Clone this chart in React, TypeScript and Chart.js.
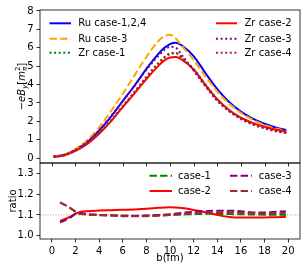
import React, { useEffect, useRef } from 'react';
import { Chart, registerables } from 'chart.js';
Chart.register(...registerables);

// ---------- data ----------
const B_FIELD = [0.15, 1, 2, 3, 4, 5, 6, 7, 8, 9, 9.5, 10, 10.5, 11, 12, 13, 14, 15, 16, 17, 18, 19, 19.85];
const RU_CASE_124 = [0.09, 0.17, 0.45, 0.88, 1.5, 2.25, 3.1, 3.95, 4.85, 5.65, 5.98, 6.2, 6.27, 6.12, 5.55, 4.62, 3.75, 3.05, 2.53, 2.15, 1.87, 1.66, 1.54];
const RU_CASE_3 = [0.09, 0.18, 0.5, 0.98, 1.68, 2.55, 3.5, 4.5, 5.5, 6.35, 6.62, 6.7, 6.5, 6.1, 5.35, 4.45, 3.62, 2.97, 2.46, 2.09, 1.81, 1.6, 1.5];
const ZR_CASE_1 = [0.08, 0.16, 0.41, 0.8, 1.36, 2.04, 2.82, 3.6, 4.42, 5.15, 5.45, 5.65, 5.7, 5.48, 4.85, 4.0, 3.2, 2.6, 2.18, 1.88, 1.66, 1.5, 1.4];
const ZR_CASE_2 = [0.08, 0.15, 0.4, 0.78, 1.33, 2.0, 2.78, 3.52, 4.3, 5.0, 5.3, 5.47, 5.5, 5.35, 4.82, 3.98, 3.2, 2.62, 2.2, 1.92, 1.71, 1.55, 1.44];
const ZR_CASE_3 = [0.08, 0.17, 0.46, 0.9, 1.52, 2.28, 3.1, 3.92, 4.8, 5.55, 5.87, 6.05, 6.0, 5.6, 4.75, 3.9, 3.12, 2.55, 2.13, 1.83, 1.62, 1.46, 1.37];
const ZR_CASE_4 = [0.08, 0.15, 0.41, 0.8, 1.36, 2.04, 2.82, 3.6, 4.42, 5.15, 5.47, 5.7, 5.72, 5.45, 4.8, 3.95, 3.17, 2.58, 2.16, 1.86, 1.65, 1.48, 1.39];

const B_RATIO = [0.7, 1.5, 2.25, 3, 4, 5, 6, 7, 8, 9, 10, 11, 12, 13, 14, 15, 16, 17, 18, 19, 19.8];
const RATIO_CASE_1 = [1.16, 1.135, 1.108, 1.103, 1.1, 1.098, 1.096, 1.095, 1.096, 1.098, 1.1, 1.102, 1.104, 1.105, 1.105, 1.104, 1.103, 1.102, 1.101, 1.101, 1.1];
const RATIO_CASE_2 = [1.071, 1.09, 1.112, 1.118, 1.121, 1.123, 1.125, 1.126, 1.13, 1.134, 1.137, 1.133, 1.124, 1.113, 1.1, 1.09, 1.087, 1.087, 1.088, 1.089, 1.09];
const RATIO_CASE_3 = [1.064, 1.085, 1.11, 1.104, 1.1, 1.098, 1.096, 1.096, 1.097, 1.099, 1.103, 1.11, 1.115, 1.118, 1.12, 1.12, 1.118, 1.112, 1.112, 1.115, 1.118];
const RATIO_CASE_4 = [1.16, 1.135, 1.108, 1.102, 1.099, 1.097, 1.094, 1.093, 1.094, 1.096, 1.1, 1.104, 1.108, 1.11, 1.112, 1.113, 1.11, 1.108, 1.107, 1.108, 1.11];

const X_TICKS = [0, 2, 4, 6, 8, 10, 12, 14, 16, 18, 20];
const TOP_Y_TICKS = [0, 1, 2, 3, 4, 5, 6, 7, 8];
const RATIO_Y_TICKS = [1.0, 1.1, 1.2, 1.3];
const RATIO_REFERENCE = 1.1;
const X_MIN = -1, X_MAX = 21;
const TOP_Y_MIN = -0.26, TOP_Y_MAX = 8.05;
const RATIO_Y_MIN = 0.984, RATIO_Y_MAX = 1.35;

const TOP_LABELS = ['Ru case-1,2,4', 'Ru case-3', 'Zr case-1', 'Zr case-2', 'Zr case-3', 'Zr case-4'];
const RATIO_LABELS = ['case-1', 'case-2', 'case-3', 'case-4'];
const X_TITLE = 'b(fm)';
const RATIO_TITLE = 'ratio';

// ---------- styles ----------
const FONT = '"DejaVu Sans", sans-serif';
const DASHED = [7.4, 3.2];
const DOTTED = [2, 2.6];
const TOP_STYLES = [
  { color: '#0000ff', dash: [] as number[] },
  { color: '#ffa500', dash: DASHED },
  { color: '#008000', dash: DOTTED },
  { color: '#ff0000', dash: [] as number[] },
  { color: '#800080', dash: DOTTED },
  { color: '#a52a2a', dash: DOTTED },
];
const RATIO_STYLES = [
  { color: '#008000', dash: DASHED },
  { color: '#ff0000', dash: [] as number[] },
  { color: '#800080', dash: DASHED },
  { color: '#a52a2a', dash: DASHED },
];

const pts = (xs: number[], ys: number[]) => xs.map((x, i) => ({ x, y: ys[i] }));

const tickGrid = {
  display: true,
  drawOnChartArea: false,
  drawTicks: true,
  tickLength: 3.5,
  tickColor: '#000',
  tickWidth: 0.8,
  color: '#000',
  lineWidth: 0.8,
};

function makeFrame(drawXTicks: boolean) {
  return {
    id: 'frame',
    afterDatasetsDraw(chart: any) {
      const { ctx, chartArea: a, scales } = chart;
      ctx.save();
      ctx.strokeStyle = '#000';
      ctx.lineWidth = 0.8;
      ctx.strokeRect(a.left, a.top, a.right - a.left, a.bottom - a.top);
      if (drawXTicks) {
        ctx.beginPath();
        X_TICKS.forEach((v) => {
          const x = Math.round(scales.x.getPixelForValue(v)) + 0.5;
          ctx.moveTo(x, a.bottom);
          ctx.lineTo(x, a.bottom + 3.5);
        });
        ctx.stroke();
      }
      ctx.restore();
    },
  };
}

type Seg = { t: string; it?: boolean; s: number; dy: number; stack?: boolean };
function drawRotatedSegs(ctx: CanvasRenderingContext2D, segs: Seg[], cx: number, cy: number) {
  const fontOf = (g: Seg) => `${g.it ? 'italic ' : ''}${g.s}px ${FONT}`;
  const xs: number[] = [];
  let cursor = 0;
  segs.forEach((g, i) => {
    ctx.font = fontOf(g);
    const w = ctx.measureText(g.t).width;
    if (g.stack && i > 0) {
      xs.push(xs[i - 1]);
      cursor = Math.max(cursor, xs[i - 1] + w);
    } else {
      xs.push(cursor);
      cursor += w;
    }
  });
  ctx.save();
  ctx.translate(cx, cy);
  ctx.rotate(-Math.PI / 2);
  ctx.fillStyle = '#000';
  ctx.textBaseline = 'alphabetic';
  ctx.textAlign = 'left';
  segs.forEach((g, i) => {
    ctx.font = fontOf(g);
    ctx.fillText(g.t, -cursor / 2 + xs[i], 3.6 + g.dy);
  });
  ctx.restore();
}

function drawLegend(ctx: CanvasRenderingContext2D, items: { label: string; color: string; dash: number[]; x0: number; x1: number; tx: number; y: number }[]) {
  ctx.save();
  ctx.font = `10px ${FONT}`;
  ctx.textBaseline = 'middle';
  ctx.textAlign = 'left';
  items.forEach((it) => {
    ctx.strokeStyle = it.color;
    ctx.lineWidth = 2;
    ctx.setLineDash(it.dash);
    ctx.beginPath();
    ctx.moveTo(it.x0, it.y);
    ctx.lineTo(it.x1, it.y);
    ctx.stroke();
    ctx.setLineDash([]);
    ctx.fillStyle = '#000';
    ctx.fillText(it.label, it.tx, it.y + 0.5);
  });
  ctx.restore();
}

const topDecor = {
  id: 'topDecor',
  afterDraw(chart: any) {
    const { ctx, chartArea: a } = chart;
    const top = a.top;
    const rows = [top + 13.3, top + 28.7, top + 42.8];
    const items = TOP_LABELS.map((label, i) => {
      const col = i < 3 ? 0 : 1;
      const row = i % 3;
      return {
        label,
        color: TOP_STYLES[i].color,
        dash: TOP_STYLES[i].dash,
        x0: col === 0 ? 49.5 : 216,
        x1: col === 0 ? 71 : 237,
        tx: col === 0 ? 78.3 : 244.5,
        y: rows[row],
      };
    });
    drawLegend(ctx, items);
    drawRotatedSegs(
      ctx,
      [
        { t: '\u2212', s: 10, dy: 0 },
        { t: 'eB', it: true, s: 10, dy: 0 },
        { t: 'y', it: true, s: 7, dy: 2.2 },
        { t: '[', s: 10, dy: 0 },
        { t: 'm', it: true, s: 10, dy: 0 },
        { t: '\u03c0', it: true, s: 7, dy: 2.2 },
        { t: '2', s: 7, dy: -4.2, stack: true },
        { t: ']', s: 10, dy: 0 },
      ],
      21,
      (a.top + a.bottom) / 2
    );
  },
};

const bottomDecor = {
  id: 'bottomDecor',
  beforeDatasetsDraw(chart: any) {
    const { ctx, chartArea: a, scales } = chart;
    const y = scales.y.getPixelForValue(RATIO_REFERENCE);
    ctx.save();
    ctx.strokeStyle = '#888';
    ctx.lineWidth = 0.8;
    ctx.setLineDash([1, 1.6]);
    ctx.beginPath();
    ctx.moveTo(a.left, y);
    ctx.lineTo(a.right, y);
    ctx.stroke();
    ctx.restore();
  },
  afterDraw(chart: any) {
    const { ctx, chartArea: a } = chart;
    const rows = [a.top + 12.7, a.top + 28];
    const items = RATIO_LABELS.map((label, i) => {
      const col = Math.floor(i / 2);
      const row = i % 2;
      return {
        label,
        color: RATIO_STYLES[i].color,
        dash: RATIO_STYLES[i].dash,
        x0: col === 0 ? 149.5 : 230,
        x1: col === 0 ? 172 : 252,
        tx: col === 0 ? 178 : 258.7,
        y: rows[row],
      };
    });
    drawLegend(ctx, items);
    ctx.save();
    ctx.font = `10px ${FONT}`;
    ctx.fillStyle = '#000';
    ctx.textAlign = 'center';
    ctx.textBaseline = 'middle';
    ctx.fillText(X_TITLE, (a.left + a.right) / 2, a.bottom + 19.5);
    ctx.restore();
    drawRotatedSegs(ctx, [{ t: RATIO_TITLE, s: 10, dy: 0 }], 12, (a.top + a.bottom) / 2);
  },
};

function yScale(min: number, max: number, ticks: number[], decimals: number) {
  return {
    type: 'linear' as const,
    min,
    max,
    border: { display: false },
    grid: tickGrid,
    ticks: {
      autoSkip: false,
      padding: 3,
      color: '#000',
      font: { size: 10, family: FONT },
      callback: (v: any) => Number(v).toFixed(decimals),
    },
    afterBuildTicks: (s: any) => {
      s.ticks = ticks.map((value) => ({ value }));
    },
    afterFit: (s: any) => {
      s.width = 40;
      s.paddingTop = 0;
      s.paddingBottom = 0;
    },
  };
}

export default function App() {
  const topRef = useRef<HTMLCanvasElement>(null);
  const botRef = useRef<HTMLCanvasElement>(null);

  useEffect(() => {
    const topSeries = [RU_CASE_124, RU_CASE_3, ZR_CASE_1, ZR_CASE_2, ZR_CASE_3, ZR_CASE_4];
    const ratioSeries = [RATIO_CASE_1, RATIO_CASE_2, RATIO_CASE_3, RATIO_CASE_4];

    const top = new Chart(topRef.current!, {
      type: 'line',
      data: {
        datasets: topSeries.map((ys, i) => ({
          label: TOP_LABELS[i],
          data: pts(B_FIELD, ys),
          borderColor: TOP_STYLES[i].color,
          borderDash: TOP_STYLES[i].dash,
          borderWidth: 2,
          pointRadius: 0,
          fill: false,
          cubicInterpolationMode: 'monotone' as const,
          order: -i,
        })),
      },
      options: {
        responsive: false,
        animation: false,
        devicePixelRatio: 1,
        layout: { padding: { top: 10, right: 4, left: 0, bottom: 7 } },
        plugins: { legend: { display: false }, tooltip: { enabled: false } },
        scales: {
          x: { type: 'linear', min: X_MIN, max: X_MAX, display: false },
          y: yScale(TOP_Y_MIN, TOP_Y_MAX, TOP_Y_TICKS, 0),
        },
      },
      plugins: [makeFrame(true), topDecor],
    });

    const bot = new Chart(botRef.current!, {
      type: 'line',
      data: {
        datasets: ratioSeries.map((ys, i) => ({
          label: RATIO_LABELS[i],
          data: pts(B_RATIO, ys),
          borderColor: RATIO_STYLES[i].color,
          borderDash: RATIO_STYLES[i].dash,
          borderWidth: 2,
          pointRadius: 0,
          fill: false,
          cubicInterpolationMode: 'monotone' as const,
          order: -i,
        })),
      },
      options: {
        responsive: false,
        animation: false,
        devicePixelRatio: 1,
        layout: { padding: { top: 13, right: 4, left: 0, bottom: 0 } },
        plugins: { legend: { display: false }, tooltip: { enabled: false } },
        scales: {
          x: {
            type: 'linear',
            min: X_MIN,
            max: X_MAX,
            border: { display: false },
            grid: tickGrid,
            ticks: {
              autoSkip: false,
              maxRotation: 0,
              padding: 3,
              color: '#000',
              font: { size: 10, family: FONT },
              callback: (v: any) => String(v),
            },
            afterBuildTicks: (s: any) => {
              s.ticks = X_TICKS.map((value) => ({ value }));
            },
            afterFit: (s: any) => {
              s.height = 27;
              s.paddingLeft = 0;
              s.paddingRight = 0;
            },
          },
          y: yScale(RATIO_Y_MIN, RATIO_Y_MAX, RATIO_Y_TICKS, 1),
        },
      },
      plugins: [makeFrame(false), bottomDecor],
    });

    return () => {
      top.destroy();
      bot.destroy();
    };
  }, []);

  return (
    <div style={{ position: 'absolute', left: 0, top: 0, width: 304, height: 266, background: '#fff' }}>
      <canvas ref={topRef} width={304} height={170} style={{ position: 'absolute', left: 0, top: 0, width: 304, height: 170 }} />
      <canvas ref={botRef} width={304} height={116} style={{ position: 'absolute', left: 0, top: 150, width: 304, height: 116 }} />
    </div>
  );
}
